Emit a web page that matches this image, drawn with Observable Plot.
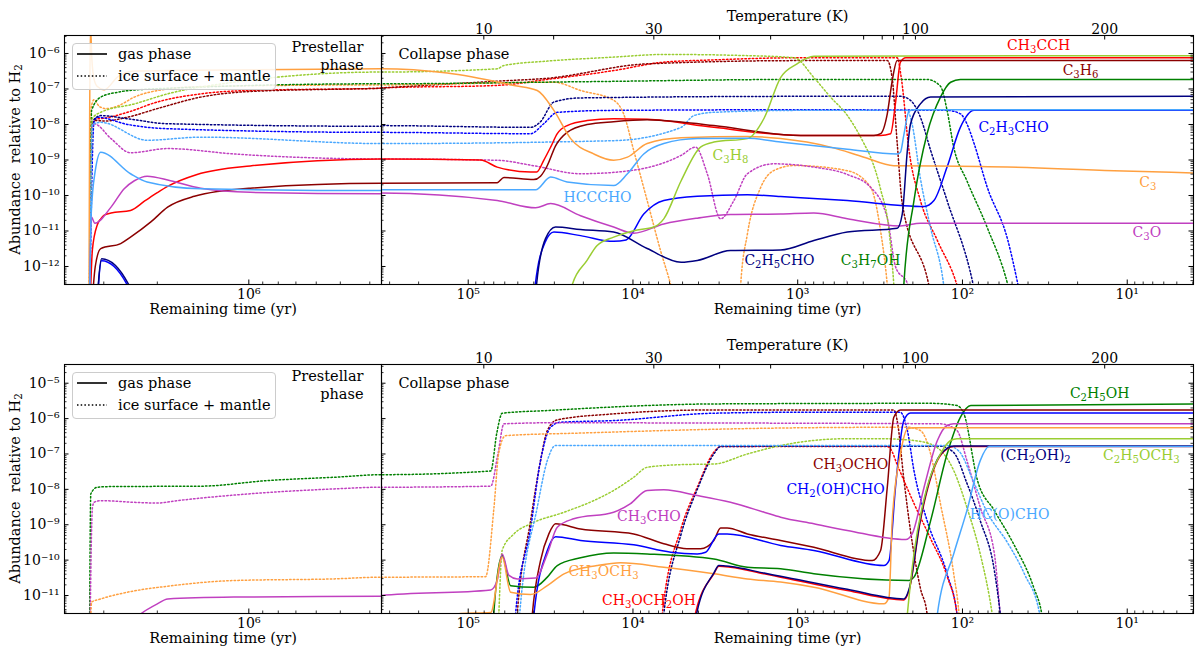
<!DOCTYPE html>
<html><head><meta charset="utf-8">
<script src="https://cdn.jsdelivr.net/npm/d3@7"></script>
<script src="https://cdn.jsdelivr.net/npm/@observablehq/plot@0.6"></script>
<style>
body{margin:0;background:white;}
#wrap{position:relative;width:1200px;height:654px;font-family:"DejaVu Serif",serif;}
</style></head><body><div id="wrap"></div>
<script>
// ---------- TOP FIGURE: [remaining time (yr), abundance] ----------
const CH3CCH_gas = [[3.35e6,1e-14],[3.27e6,3e-12],[3.15e6,1.5e-11],[3.07e6,2.2e-11],[2.99e6,2.8e-11],[2.84e6,3.2e-11],[2.45e6,3.8e-11],[2.2e6,7e-11],[2.0e6,1.2e-10],[1.85e6,1.8e-10],[1.48e6,3.9e-10],[9.9e5,6.8e-10],[3.65e5,1.07e-9],
[3.4e5,1.07e-9],[8.4e4,1.0e-9],[6.67e4,6.3e-10],[4.18e4,4.6e-10],[3.84e4,4.6e-10],[3.48e4,9.8e-10],[3.16e4,2.3e-9],[2.88e4,5.5e-9],[2.51e4,9.3e-9],[1.9e4,1.29e-8],[1.31e4,1.45e-8],[8.2e3,1.4e-8],[3.23e3,8.3e-9],[9.6e2,4.9e-9],[3.14e2,4.9e-9],[2.73e2,5.5e-9],[2.55e2,4e-8],[2.38e2,5.7e-7],[2.21e2,7.6e-7],[3.9,7.6e-7]];
const CH3CCH_ice = [[3.35e6,1e-14],[3.29e6,8e-9],[3.2e6,1.4e-8],[2.99e6,1.5e-8],[2.51e6,2.2e-8],[2.0e6,4.3e-8],[1.44e6,7.3e-8],[9.9e5,9.1e-8],[3.65e5,1.05e-7],
[3.4e5,1.07e-7],[6.67e4,1.26e-7],[3.31e4,1.86e-7],[1.31e4,3.3e-7],[6.5e3,5.7e-7],[3.23e3,6.6e-7],[9.6e2,7.6e-7],[2.49e2,7.6e-7],[2.35e2,2e-7],[2.11e2,1.86e-9],[1.8e2,7.2e-11],[1.42e2,5.4e-12],[1.08e2,3e-13],[9e1,1e-14]];
const C3H6_gas = [[3.33e6,1e-14],[3.2e6,1e-12],[3.07e6,3.2e-12],[2.64e6,4.4e-12],[2.45e6,6.7e-12],[2.1e6,1.8e-11],[1.85e6,4.7e-11],[1.51e6,9.5e-11],[9.9e5,1.6e-10],[3.65e5,2.2e-10],
[3.4e5,2.2e-10],[6.67e4,2.3e-10],[6.07e4,3.2e-10],[4.0e4,2.8e-10],[3.64e4,3.5e-10],[3.31e4,7e-10],[2.95e4,2.5e-9],[2.51e4,6e-9],[1.9e4,1.0e-8],[1.31e4,1.2e-8],[8.2e3,1.35e-8],[5.1e3,1.17e-8],[3.23e3,9.3e-9],[9.6e2,4.9e-9],[3.45e2,4.9e-9],[3.14e2,5.5e-9],[2.86e2,2e-8],[2.67e2,1.7e-7],[2.49e2,6.3e-7],[3.9,6.3e-7]];
const C3H6_ice = [[3.35e6,1e-14],[3.29e6,8e-9],[3.2e6,1.3e-8],[2.99e6,1.25e-8],[2.51e6,1.6e-8],[2.0e6,2.8e-8],[1.44e6,5.9e-8],[9.9e5,8.5e-8],[3.65e5,1.05e-7],
[3.4e5,1.07e-7],[6.67e4,1.66e-7],[3.31e4,2.0e-7],[8.2e3,5.1e-7],[9.6e2,6.3e-7],[2.86e2,6.3e-7],[2.67e2,2e-7],[2.49e2,3e-9],[2.32e2,6e-11],[1.6e2,3e-13],[1.4e2,1e-14]];
const C2H3CHO_gas = [[3.2e6,1e-14],[3.05e6,1.45e-12],[2.5e6,2.8e-13],[2.3e6,5e-14],
[4.1e4,1e-14],[3.92e4,3e-13],[3.4e4,5e-12],[3.02e4,9.3e-12],[2.08e4,7.4e-12],[1.31e4,5.1e-12],[1.1e4,5.6e-12],[8.6e3,3e-11],[6.5e3,7.2e-11],[4.07e3,9.5e-11],[2.02e3,1.05e-10],[1.27e3,9.3e-11],[5.0e2,7.2e-11],[1.71e2,4.9e-11],[1.49e2,7.2e-11],[1.24e2,6.3e-10],[1.03e2,8.3e-9],[8.5e1,2.5e-8],[3.9,2.5e-8]];
const C2H3CHO_ice = [[3.35e6,1e-14],[3.23e6,1.2e-8],[3.15e6,1.6e-8],[2.5e6,1e-8],[1.85e6,7.6e-9],[3.65e5,6e-9],
[3.4e5,6e-9],[4.18e4,5.5e-9],[3.48e4,1.05e-8],[2.88e4,2.2e-8],[1.31e4,2.5e-8],[9.6e2,2.6e-8],[1.24e2,2.5e-8],[1.03e2,2e-8],[9.4e1,1.05e-8],[8.5e1,2.9e-9],[7.1e1,1.8e-10],[5.3e1,5.4e-12],[4.6e1,3e-13],[4e1,1e-14]];
const C3_gas = [[3.36e6,1e-14],[3.34e6,1e-8],[3.32e6,6e-6],[3.28e6,6e-7],[3.23e6,1.9e-7],[3.15e6,1.17e-7],[2.99e6,9.5e-8],[2.7e6,2.2e-7],[2.38e6,3.2e-7],[1.85e6,3.3e-7],[3.65e5,3.7e-7],
[3.4e5,3.7e-7],[1.34e5,2.8e-7],[5.28e4,1.26e-7],[3.81e4,9.1e-8],[3.02e4,2.5e-8],[2.39e4,4e-9],[1.73e4,1.48e-9],[1.31e4,9.8e-10],[1.08e4,1.2e-9],[8.2e3,2.9e-9],[5.1e3,4.2e-9],[2.02e3,4.6e-9],[1.27e3,4e-9],[6.32e2,2.3e-9],[3.96e2,1.2e-9],[2.61e2,6.9e-10],[7.8e1,6.6e-10],[1.2e1,5e-10],[3.9,4.3e-10]];
const C3_ice = [[3.35e6,1e-14],[3.3e6,3e-8],[3.23e6,5e-8],[3.1e6,3.2e-8],[2.95e6,2.8e-8],[2.7e6,3.3e-8],[2.38e6,5.9e-8],[1.85e6,1e-7],[1.44e6,1.17e-7],[3.65e5,1.3e-7],
[3.4e5,1.3e-7],[3.02e4,1.55e-7],[2.08e4,9.1e-8],[1.31e4,4.8e-8],[1.14e4,2e-8],[9.9e3,1.86e-9],[8.2e3,7.2e-11],[6.8e3,2.8e-12],[5.9e3,3e-13],[5.0e3,1e-14],[2.3e3,1e-14],[2.22e3,3e-13],[2.02e3,8.3e-12],[1.68e3,1.66e-10],[1.4e3,5e-10],[1.05e3,7e-10],[5.0e2,5e-10],[3.61e2,1.7e-10],[3.14e2,1e-11],[2.86e2,3e-13],[2.7e2,1e-14]];
const C3O_gas = [[3.35e6,1e-14],[3.3e6,2.5e-11],[3.21e6,1.66e-11],[2.84e6,4.7e-11],[2.57e6,1.55e-10],[2.38e6,2.6e-10],[2.16e6,3.5e-10],[1.81e6,2.6e-10],[1.44e6,1.6e-10],[9.9e5,1.23e-10],[3.65e5,1.12e-10],
[3.4e5,1.17e-10],[6.67e4,7.2e-11],[3.9e4,4.5e-11],[3.16e4,5.9e-11],[2.08e4,2.7e-11],[1.31e4,1.29e-11],[9.9e3,8.7e-12],[6.5e3,1.58e-11],[4.07e3,2.3e-11],[2.56e3,2.9e-11],[1.27e3,3e-11],[7.98e2,3.2e-11],[5e2,2.2e-11],[2.38e2,1.38e-11],[1.8e2,1.66e-11],[3.9,1.66e-11]];
const C3O_ice = [[3.35e6,1e-14],[3.28e6,8e-9],[3.23e6,1.05e-8],[2.84e6,4e-9],[2.45e6,1.6e-9],[1.85e6,2.1e-9],[1.12e6,1.48e-9],[3.65e5,1.07e-9],
[3.4e5,1.07e-9],[6.67e4,9.8e-10],[4.0e4,6.9e-10],[2.08e4,4.1e-10],[1.04e4,5e-10],[5.1e3,1.35e-9],[4.17e3,2.3e-9],[3.54e3,4.1e-10],[2.94e3,2.2e-11],[2.44e3,7.2e-11],[2.02e3,4.1e-10],[1.4e3,7.8e-10],[7.98e2,6.3e-10],[5e2,3.9e-10],[3.61e2,1.7e-10],[2.86e2,2.3e-11],[2.55e2,1e-12],[2.14e2,3e-13],[2e2,1e-14]];
const C3H7OH_gas = [[2.35e2,1e-14],[2.27e2,3e-13],[1.97e2,7.2e-11],[1.64e2,5.5e-9],[1.36e2,5.9e-8],[1.18e2,1.55e-7],[1.03e2,1.86e-7],[3.9,1.86e-7]];
const C3H7OH_ice = [[3.35e6,1e-14],[3.29e6,2.5e-8],[3.07e6,5.9e-8],[2.7e6,8.1e-8],[2.1e6,1e-7],[3.65e5,1.4e-7],
[3.4e5,1.4e-7],[2.08e4,1.6e-7],[9.6e2,1.86e-7],[1.64e2,1.86e-7],[1.36e2,1.2e-7],[1.24e2,2.5e-8],[1.13e2,2.3e-9],[9.4e1,2.6e-10],[7.1e1,1.3e-11],[5.3e1,3e-13],[4.5e1,1e-14]];
const C2H5CHO_gas = [[3.2e6,1e-14],[3.05e6,1.66e-12],[2.48e6,3e-13],[2.3e6,6e-14],
[4.05e4,1e-14],[3.85e4,3e-13],[3.4e4,6e-12],[2.95e4,1.29e-11],[2.08e4,1.1e-11],[1.31e4,9.3e-12],[8.2e3,3.2e-12],[5.1e3,1.32e-12],[4.07e3,1.48e-12],[2.56e3,2.8e-12],[1.27e3,2.9e-12],[7.98e2,5.4e-12],[5e2,9.3e-12],[2.49e2,1.2e-11],[2.32e2,3e-11],[2.16e2,1.86e-9],[2.07e2,1e-8],[1.8e2,3.8e-8],[1.56e2,5.9e-8],[3.9,6.2e-8]];
const C2H5CHO_ice = [[3.35e6,1e-14],[3.27e6,1.2e-8],[3.07e6,1.78e-8],[2.5e6,1.45e-8],[1.85e6,1.05e-8],[3.65e5,8.9e-9],
[3.4e5,9.3e-9],[4.18e4,8.3e-9],[3.64e4,1.2e-8],[3.02e4,4.3e-8],[2.08e4,5.6e-8],[9.6e2,6.2e-8],[2.38e2,6.2e-8],[2.07e2,4.8e-8],[1.8e2,1.6e-8],[1.56e2,1.86e-9],[1.24e2,7.2e-11],[8.6e1,3e-13],[7.5e1,1e-14]];
const C3H8_gas = [[2.6e4,1e-14],[2.34e4,3e-13],[1.9e4,1.48e-12],[1.65e4,3.9e-12],[1.31e4,6.7e-12],[9.9e3,1.02e-11],[7.5e3,1.29e-11],[6.5e3,2.2e-11],[5.1e3,2.6e-10],[3.89e3,2.3e-9],[3.23e3,3.2e-9],[2.02e3,4e-9],[1.6e3,1.5e-8],[1.27e3,2.1e-7],[1.01e3,5.1e-7],[7.98e2,8.3e-7],[3.9,8.7e-7]];
const C3H8_ice = [[3.35e6,1e-14],[3.27e6,1.5e-8],[3.07e6,2.2e-8],[2.38e6,3.8e-8],[1.85e6,7.3e-8],[1.12e6,1.55e-7],[3.65e5,3e-7],
[3.4e5,3e-7],[6.67e4,3.7e-7],[6.07e4,4.6e-7],[3.31e4,6.1e-7],[1.31e4,7.9e-7],[6.5e3,9.4e-7],[2.02e3,8.7e-7],[1.05e3,7.6e-7],[7.98e2,2.1e-7],[6.32e2,5.9e-8],[5e2,1.8e-8],[3.96e2,2.9e-9],[3.61e2,1.2e-9],[3.14e2,1.5e-10],[2.79e2,1e-11],[2.61e2,3e-13],[2.5e2,1e-14]];
const HCCCHO_gas = [[3.35e6,1e-14],[3.3e6,3e-11],[3.2e6,5e-10],[3.07e6,1.66e-9],[2.45e6,4.1e-10],[2.16e6,2.4e-10],[1.44e6,1.55e-10],[3.65e5,1.38e-10],
[3.4e5,1.45e-10],[3.9e4,1.45e-10],[3.16e4,3.3e-10],[2.51e4,2.4e-10],[1.31e4,1.9e-10],[1.08e4,4.1e-10],[8.6e3,1.48e-9],[6.5e3,2.9e-9],[4.07e3,4e-9],[2.02e3,4.1e-9],[1.27e3,3.2e-9],[5e2,2e-9],[2.49e2,1.48e-9],[2.38e2,1.66e-9],[2.27e2,5e-9],[2.11e2,2.4e-8],[1.97e2,2.6e-8],[3.9,2.6e-8]];
const HCCCHO_ice = [[3.35e6,1e-14],[3.27e6,1e-8],[3.07e6,1.15e-8],[2.16e6,3.6e-9],[1.44e6,4.4e-9],[3.65e5,2.9e-9],
[3.4e5,2.9e-9],[1.31e4,3.5e-9],[5.1e3,8.3e-9],[4.27e3,1.78e-8],[3.23e3,2.2e-8],[9.6e2,2.5e-8],[2.16e2,2.5e-8],[2.02e2,1e-8],[1.8e2,3e-10],[1.56e2,1.2e-11],[1.3e2,3e-13],[1.2e2,1e-14]];

// ---------- BOTTOM FIGURE ----------
const C2H5OH_gas = [[7.3e4,1e-13],[7.0e4,3e-12],[6.22e4,1.35e-10],[5.53e4,1.9e-11],[3.99e4,1.72e-11],[3.31e4,3.3e-11],[2.88e4,7e-11],[2.08e4,1.16e-10],[1.31e4,1.6e-10],[8.2e3,1.5e-10],[3.23e3,1.08e-10],[2.02e3,6.3e-11],[1.27e3,5.7e-11],[7.98e2,4.1e-11],[2.11e2,2.65e-11],[1.97e2,3.3e-11],[1.56e2,1.31e-9],[1.24e2,1e-7],[1.03e2,1.09e-6],[8.9e1,2.34e-6],[3.9,2.6e-6]];
const C2H5OH_ice = [[3.35e6,1e-14],[3.31e6,7.5e-9],[3.15e6,1.15e-8],[2.84e6,1.2e-8],[1.44e6,1.23e-8],[8.69e5,1.77e-8],[5.24e5,2.2e-8],[3.65e5,2.6e-8],
[3.4e5,2.6e-8],[7.3e4,3.3e-8],[6.7e4,4e-7],[6.22e4,1.42e-6],[3.31e4,1.69e-6],[8.2e3,2.34e-6],[3.23e3,2.6e-6],[1.56e2,2.7e-6],[1.08e2,2.34e-6],[9.8e1,1.36e-6],[8.1e1,1.77e-8],[6.4e1,2.5e-9],[4.9e1,2.9e-10],[3.7e1,1.72e-11],[3.3e1,3e-12],[3e1,1e-13]];
const CH3OCHO_gas = [[4.3e4,1e-13],[4.08e4,3e-12],[3.64e4,9.7e-11],[3.24e4,5.5e-10],[2.95e4,1.06e-9],[2.08e4,7.6e-10],[9.9e3,5.5e-10],[6.5e3,2.9e-10],[4.7e3,2.1e-10],[3.89e3,2.1e-10],[3.23e3,3.6e-10],[2.94e3,8.1e-10],[2.68e3,8.1e-10],[2.02e3,5.5e-10],[1.27e3,3.6e-10],[7.98e2,2.3e-10],[3.53e2,9.7e-11],[3.14e2,1.87e-10],[2.86e2,1.15e-8],[2.61e2,1.09e-6],[2.38e2,1.76e-6],[3.9,1.76e-6]];
const CH3OCHO_ice = [[5.3e4,1e-13],[5.04e4,3e-12],[4.18e4,1.31e-9],[3.64e4,6.5e-8],[3.31e4,4.6e-7],[2.88e4,9.2e-7],[1.31e4,1.36e-6],[3.23e3,1.76e-6],[2.61e2,1.76e-6],[2.49e2,8.8e-7],[2.27e2,2e-8],[2.07e2,7e-10],[1.8e2,1.6e-11],[1.64e2,3e-12],[1.55e2,1e-13]];
const CH2OHCHO_gas = [[4.2e4,1e-13],[3.99e4,3e-12],[3.31e4,1.87e-10],[2.95e4,4.6e-10],[2.08e4,3.6e-10],[9.9e3,2.7e-10],[5.9e3,1.67e-10],[4.07e3,1.5e-10],[3.62e3,1.67e-10],[3.01e3,5.5e-10],[2.68e3,5.5e-10],[1.27e3,2.6e-10],[7.98e2,1.87e-10],[3.0e2,7e-11],[2.79e2,9.7e-11],[2.55e2,1.15e-8],[2.27e2,8.8e-7],[2.07e2,1.45e-6],[3.9,1.45e-6]];
const CH2OHCHO_ice = [[5.3e4,1e-13],[5.16e4,3e-12],[4.18e4,8e-10],[3.64e4,6.5e-8],[3.16e4,5.7e-7],[2.75e4,7.9e-7],[1.31e4,8.8e-7],[3.23e3,1.42e-6],[9.6e2,1.51e-6],[2.38e2,1.51e-6],[2.16e2,4.6e-7],[1.97e2,3.4e-8],[1.64e2,1.31e-9],[1.24e2,4.1e-11],[1.08e2,3e-12],[1e2,1e-13]];
const CH3CHO_gas = [[2.6e6,1e-12],[2.27e6,3e-12],[2.0e6,5.8e-12],[1.85e6,8e-12],[1.12e6,9e-12],[3.65e5,9.6e-12],
[3.4e5,1e-11],[7.3e4,1.44e-11],[6.67e4,2.65e-11],[6.22e4,1.5e-10],[5.66e4,3.7e-11],[5.04e4,2.95e-11],[3.9e4,3.1e-11],[3.31e4,1.5e-10],[2.88e4,8.5e-10],[2.29e4,1.47e-9],[1.31e4,2.26e-9],[1.04e4,3.9e-9],[8.2e3,9.3e-9],[6.5e3,9.7e-9],[4.07e3,6.7e-9],[2.56e3,4.3e-9],[1.6e3,2.26e-9],[1.27e3,1.63e-9],[7.98e2,1.06e-9],[5e2,6.9e-10],[2.21e2,3.8e-10],[2.02e2,5.5e-10],[1.71e2,1.15e-8],[1.42e2,2.4e-7],[1.24e2,6.4e-7],[1.13e2,7.1e-7],[3.9,7.1e-7]];
const CH3CHO_ice = [[3.35e6,1e-14],[3.27e6,3e-9],[3.23e6,4.3e-9],[3.07e6,4.8e-9],[2.38e6,4.3e-9],[2.0e6,4.1e-9],[1.72e6,4.8e-9],[9.9e5,7.5e-9],[5.24e5,1.03e-8],[3.65e5,1.15e-8],
[3.4e5,1.15e-8],[7.3e4,1.23e-8],[6.6e4,1e-7],[6.07e4,7.1e-7],[3.31e4,7.6e-7],[9.6e2,7.4e-7],[1.36e2,7.1e-7],[1.08e2,4.6e-7],[9.4e1,6.5e-8],[7.8e1,3.1e-9],[6.4e1,1.5e-10],[5.9e1,3e-12],[5.5e1,1e-13]];
const CH3OCH3_gas = [[1.6e5,1e-12],[1.11e5,3.1e-12],[7.3e4,3.3e-12],[6.22e4,1.2e-10],[5.53e4,1.24e-11],[4.18e4,1.06e-11],[3.31e4,1.9e-11],[2.62e4,4.1e-11],[1.65e4,7e-11],[1.19e4,8.4e-11],[6.5e3,6.3e-11],[3.23e3,4.1e-11],[2.02e3,2.95e-11],[1.27e3,2.4e-11],[7.98e2,1.72e-11],[3.0e2,5.8e-12],[2.79e2,9e-12],[2.67e2,1.3e-9],[2.38e2,1.0e-7],[2.16e2,5.1e-7],[1.97e2,5.5e-7],[3.9,5.5e-7]];
const CH3OCH3_ice = [[3.35e6,1e-14],[3.29e6,6.5e-12],[3.07e6,8e-12],[2.51e6,1.24e-11],[1.85e6,1.83e-11],[1.12e6,2.65e-11],[5.24e5,2.95e-11],[3.65e5,3.3e-11],
[3.4e5,3.3e-11],[7.85e4,3.4e-11],[6.98e4,3e-9],[6.52e4,1.1e-7],[5.93e4,3.3e-7],[2.08e4,3.9e-7],[9.6e2,5.5e-7],[2.16e2,5.7e-7],[1.8e2,4.6e-7],[1.56e2,1e-7],[1.36e2,3.9e-9],[1.13e2,4.1e-11],[1.05e2,3e-12],[1e2,1e-13]];
const CH3OCH2OH_gas = [[4.4e3,1e-13],[4.17e3,3.2e-12],[3.23e3,4.1e-11],[3.01e3,6.7e-11],[2.56e3,6.3e-11],[1.6e3,4.1e-11],[1.27e3,3.3e-11],[5e2,1.38e-11],[2.27e2,7.5e-12],[2.11e2,1.38e-11],[1.8e2,1.31e-9],[1.42e2,6.5e-8],[1.24e2,1.39e-7],[1.13e2,1.62e-7],[3.9,1.62e-7]];
const CH3OCH2OH_ice = [[6.9e3,1e-13],[6.64e3,3e-12],[5.1e3,8e-10],[4.07e3,1.15e-8],[3.23e3,1.12e-7],[2.94e3,1.62e-7],[2.86e2,1.62e-7],[2.73e2,1.39e-7],[2.49e2,5e-8],[1.97e2,4e-9],[1.56e2,4e-10],[1.24e2,3.5e-11],[1.08e2,3e-12],[1e2,1e-13]];
const CH2OH2_gas = [[4.5e3,1e-13],[4.1e3,3.2e-12],[3.23e3,4.3e-11],[3.01e3,7e-11],[2.56e3,6.6e-11],[1.6e3,4.3e-11],[1.27e3,3.5e-11],[5e2,1.5e-11],[2.27e2,8e-12],[2.11e2,1.5e-11],[1.8e2,1.5e-9],[1.42e2,7e-8],[1.24e2,1.45e-7],[1.13e2,1.67e-7],[3.9,1.67e-7]];
const CH2OH2_ice = [[7.0e3,1e-13],[6.5e3,3e-12],[5.1e3,5.5e-10],[4.07e3,1e-8],[3.23e3,1e-7],[2.94e3,1.62e-7],[9.6e2,1.65e-7],[1.36e2,1.65e-7],[1.13e2,1.1e-7],[9.4e1,1.5e-8],[7.8e1,1.3e-9],[6.4e1,5e-11],[5.9e1,3e-12],[5.5e1,1e-13]];
const C2H5OCH3_gas = [[2.3e2,1e-13],[2.16e2,3e-12],[1.97e2,1.5e-10],[1.64e2,1.15e-8],[1.36e2,1.0e-7],[1.18e2,2.4e-7],[1.08e2,2.7e-7],[3.9,2.7e-7]];
const C2H5OCH3_ice = [[6.7e4,1e-13],[6.52e4,3e-12],[6.22e4,1.9e-10],[5.28e4,5.5e-10],[4.18e4,1.06e-9],[2.62e4,2.26e-9],[1.73e4,4.8e-9],[1.31e4,9.3e-9],[9.9e3,2.2e-8],[8.2e3,4.2e-8],[5.1e3,5e-8],[3.23e3,5.2e-8],[2.02e3,1e-7],[1.27e3,1.73e-7],[5.0e2,2.7e-7],[3.14e2,2.7e-7],[1.97e2,2.4e-7],[1.49e2,1.73e-7],[1.13e2,3.4e-8],[9.4e1,3.1e-9],[7.8e1,1.5e-10],[6.6e1,3e-12],[6e1,1e-13]];
const HCOCHO_gas = [[1.5e2,1e-13],[1.42e2,3e-12],[1.13e2,1.5e-10],[9.4e1,2.5e-9],[7.8e1,6.5e-8],[6.9e1,1.62e-7],[3.9,1.62e-7]];
const HCOCHO_ice = [[5.0e4,1e-13],[4.87e4,3e-12],[3.81e4,3.1e-9],[3.31e4,6.5e-8],[2.95e4,1.73e-7],[9.6e2,1.73e-7],[1.24e2,1.73e-7],[1.05e2,1.2e-7],[8.5e1,1.5e-8],[7.1e1,2.3e-9],[5.3e1,3e-10],[4.2e1,4e-11],[3.4e1,3e-12],[3.1e1,1e-13]];

// labels: text, time, abundance (read positions)
const topLabelText = ["CH₃CCH","C₃H₆","C₂H₃CHO","C₃","C₃O","C₃H₇OH","C₂H₅CHO","C₃H₈","HCCCHO"];
const topLabelT = [34.5, 19.2, 49, 7.5, 7.6, 361, 1290, 2560, 16400];
const topLabelV = [1.68e-6, 3.3e-7, 8.2e-9, 2.3e-10, 9.1e-12, 1.48e-12, 1.48e-12, 1.34e-9, 8.8e-11];
const topLabelColor = ["red","darkred","blue","orange","magenta","green","navy","yellowgreen","lightblue"];
const botLabelText = ["C₂H₅OH","CH₃OCHO","CH₂(OH)CHO","(CH₂OH)₂","C₂H₅OCH₃","HC(O)CHO","CH₃CHO","CH₃OCH₃","CH₃OCH₂OH"];
const botLabelT = [14.7, 478, 589, 36, 8.2, 51.8, 8000, 15100, 8000];
const botLabelV = [5.1e-6, 5.0e-8, 9.9e-9, 9.0e-8, 9.0e-8, 1.95e-9, 1.7e-9, 4.8e-11, 7.2e-12];
const botLabelColor = ["green","darkred","blue","navy","yellowgreen","lightblue","magenta","orange","red"];

// temperature (top) axis: K value and remaining time where it is reached
const tempTickK = [10,20,30,40,50,60,70,80,90,100,200];
const tempTickTime = [8.04e4,3.03e4,7.47e3,2.98e3,1.46e3,398,307,262,229,193,13.7];
const tempLabelK = [10,30,100,200];

const COLORS = {red:"#ff0000", darkred:"#8b0000", blue:"#0000ff", navy:"#000080", green:"#008000",
  yellowgreen:"#9acd32", orange:"#ffa040", magenta:"#c040c0", lightblue:"#4aa8ff"};

const topSeries = [
  [CH3CCH_gas, CH3CCH_ice, "red"], [C3H6_gas, C3H6_ice, "darkred"], [C2H3CHO_gas, C2H3CHO_ice, "blue"],
  [C3_gas, C3_ice, "orange"], [C3O_gas, C3O_ice, "magenta"], [C3H7OH_gas, C3H7OH_ice, "green"],
  [C2H5CHO_gas, C2H5CHO_ice, "navy"], [C3H8_gas, C3H8_ice, "yellowgreen"], [HCCCHO_gas, HCCCHO_ice, "lightblue"]];
const botSeries = [
  [C2H5OH_gas, C2H5OH_ice, "green"], [CH3OCHO_gas, CH3OCHO_ice, "darkred"], [CH2OHCHO_gas, CH2OHCHO_ice, "blue"],
  [CH3CHO_gas, CH3CHO_ice, "magenta"], [CH3OCH3_gas, CH3OCH3_ice, "orange"], [CH3OCH2OH_gas, CH3OCH2OH_ice, "red"],
  [CH2OH2_gas, CH2OH2_ice, "navy"], [C2H5OCH3_gas, C2H5OCH3_ice, "yellowgreen"], [HCOCHO_gas, HCOCHO_ice, "lightblue"]];

const SUP = {"-":"⁻","0":"⁰","1":"¹","2":"²","3":"³","4":"⁴","5":"⁵","6":"⁶","7":"⁷","8":"⁸","9":"⁹"};
const fmtPow = d => "10" + String(Math.round(Math.log10(d))).split("").map(c => SUP[c]).join("");
function minorTicks(e0, e1, dom) {
  const lo = Math.min(...dom), hi = Math.max(...dom), out = [];
  for (let e = e0; e <= e1; e++) for (let m = 2; m <= 9; m++) { const v = m * Math.pow(10, e); if (v > lo && v < hi) out.push(v); }
  return out;
}
const DASH = "1.5,2.2";
const FONT = "DejaVu Serif";

function makePanel(cfg) {
  const fw = cfg.width - cfg.ml - cfg.mr, fh = cfg.height - cfg.mt - cfg.mb;
  const marks = [];
  for (const [gas, ice, c] of cfg.series)
    marks.push(Plot.line(ice, {x: d => d[0], y: d => d[1], stroke: COLORS[c], strokeWidth: 1.5, strokeDasharray: DASH, curve: "monotone-x", clip: true}));
  for (const [gas, ice, c] of cfg.series)
    marks.push(Plot.line(gas, {x: d => d[0], y: d => d[1], stroke: COLORS[c], strokeWidth: 1.5, curve: "monotone-x", clip: true}));
  marks.push(Plot.frame({stroke: "black", strokeWidth: 1.1}));
  // inward ticks
  marks.push(Plot.tickX(cfg.xMajor, {x: d => d, insetTop: fh - 4.5, stroke: "black", strokeWidth: 1}));
  marks.push(Plot.tickX(cfg.xMinor, {x: d => d, insetTop: fh - 2.5, stroke: "black", strokeWidth: 0.8}));
  marks.push(Plot.tickY(cfg.yMajor, {y: d => d, insetRight: fw - 4.5, stroke: "black", strokeWidth: 1}));
  marks.push(Plot.tickY(cfg.yMinor, {y: d => d, insetRight: fw - 2.5, stroke: "black", strokeWidth: 0.8}));
  marks.push(Plot.axisX({ticks: cfg.xMajor, tickFormat: fmtPow, tickSize: 0, tickPadding: 5, label: null, fontSize: 14}));
  marks.push(Plot.text(["Remaining time (yr)"], {frameAnchor: "bottom", dy: 29, fontSize: 14.5}));
  if (cfg.isLeft) {
    marks.push(Plot.axisY({ticks: cfg.yMajor, tickFormat: fmtPow, tickSize: 0, tickPadding: 5, label: null, fontSize: 14}));
    marks.push(Plot.text(["Prestellar\nphase"], {frameAnchor: "top-right", dx: -18, dy: 4.5, textAnchor: "end", lineAnchor: "top", lineHeight: 1.2, fontSize: 14.5}));
  } else {
    marks.push(Plot.tickY(cfg.yMajor, {y: d => d, insetLeft: fw - 4.5, stroke: "black", strokeWidth: 1}));
    marks.push(Plot.tickY(cfg.yMinor, {y: d => d, insetLeft: fw - 2.5, stroke: "black", strokeWidth: 0.8}));
    marks.push(Plot.tickX(tempTickTime, {x: d => d, insetBottom: fh - 4.5, stroke: "black", strokeWidth: 1}));
    const tl = tempLabelK.map(k => ({k, t: tempTickTime[tempTickK.indexOf(k)]}));
    marks.push(Plot.text(tl, {x: "t", text: d => String(d.k), frameAnchor: "top", dy: -11, fontSize: 14}));
    marks.push(Plot.text(["Temperature (K)"], {frameAnchor: "top", dy: -25, fontSize: 14.5}));
    marks.push(Plot.text(["Collapse phase"], {frameAnchor: "top-left", dx: 17, dy: 13, textAnchor: "start", fontSize: 14.5}));
    const labs = cfg.labText.map((s, i) => ({s, t: cfg.labT[i], v: cfg.labV[i], c: COLORS[cfg.labColor[i]]}));
    marks.push(Plot.text(labs, {x: "t", y: "v", text: "s", fill: "c", fontSize: 14}));
  }
  const svg = Plot.plot({
    width: cfg.width, height: cfg.height,
    marginTop: cfg.mt, marginBottom: cfg.mb, marginLeft: cfg.ml, marginRight: cfg.mr,
    x: {type: "log", domain: cfg.xDomain},
    y: {type: "log", domain: cfg.yDomain, axis: cfg.isLeft ? undefined : null},
    style: {fontFamily: FONT, fontSize: "14px", overflow: "visible", background: "none"},
    marks
  });
  svg.style.position = "absolute";
  svg.style.left = cfg.left + "px";
  svg.style.top = cfg.top + "px";
  svg.style.maxWidth = "none";
  return svg;
}

const wrap = document.getElementById("wrap");
const leftDom = [4.04e6, 3.66e5], rightDom = [3.36e5, 3.96];
const rows = [
  {top: 0, height: 320, mt: 35, mb: 36, yDomain: [3.11e-13, 3.21e-6], yMajor: [1e-12,1e-11,1e-10,1e-9,1e-8,1e-7,1e-6], ye: [-13,-6],
   series: topSeries, labText: topLabelText, labT: topLabelT, labV: topLabelV, labColor: topLabelColor, legendTop: 43},
  {top: 320, height: 334, mt: 44, mb: 41, yDomain: [3.1e-12, 3.38e-5], yMajor: [1e-11,1e-10,1e-9,1e-8,1e-7,1e-6,1e-5], ye: [-12,-5],
   series: botSeries, labText: botLabelText, labT: botLabelT, labV: botLabelV, labColor: botLabelColor, legendTop: 372}
];
for (const r of rows) {
  const yMinor = minorTicks(r.ye[0], r.ye[1], r.yDomain);
  wrap.appendChild(makePanel({...r, left: 0, width: 381, ml: 64, mr: 0, isLeft: true, xDomain: leftDom,
    xMajor: [1e6], xMinor: minorTicks(5, 6, leftDom), yMinor}));
  wrap.appendChild(makePanel({...r, left: 381, width: 819, ml: 0, mr: 7, isLeft: false, xDomain: rightDom,
    xMajor: [1e5,1e4,1e3,1e2,1e1], xMinor: minorTicks(0, 5, rightDom), yMinor}));
  // y-axis title (rotated)
  const cy = r.top + r.mt + (r.height - r.mt - r.mb) / 2;
  const yl = document.createElementNS("http://www.w3.org/2000/svg", "svg");
  yl.setAttribute("width", "30"); yl.setAttribute("height", String(r.height));
  yl.style.cssText = `position:absolute;left:0;top:${r.top}px;overflow:visible;font-family:'${FONT}';font-size:14.5px`;
  yl.innerHTML = `<text text-anchor="middle" dominant-baseline="central" transform="translate(15,${cy - r.top}) rotate(-90)" xml:space="preserve">Abundance  relative to H₂</text>`;
  wrap.appendChild(yl);
  // legend
  const lg = document.createElement("div");
  lg.style.cssText = `position:absolute;left:72px;top:${r.legendTop}px;width:204px;height:47px;border:1px solid #cccccc;border-radius:4px;background:rgba(255,255,255,0.85);box-sizing:border-box;`;
  lg.innerHTML = `<svg width="204" height="47" style="position:absolute;left:-1px;top:-1px;font-family:'${FONT}';font-size:14.5px">
    <line x1="5" x2="35" y1="11" y2="11" stroke="black" stroke-width="1.6"/>
    <text x="46" y="11" dominant-baseline="central">gas phase</text>
    <line x1="5" x2="35" y1="33" y2="33" stroke="black" stroke-width="1.5" stroke-dasharray="${DASH}"/>
    <text x="46" y="33" dominant-baseline="central">ice surface + mantle</text></svg>`;
  wrap.appendChild(lg);
}

// render chemical subscripts as smaller, lowered digits (real text kept)
const SUBS = "₀₁₂₃₄₅₆₇₈₉";
wrap.querySelectorAll("text").forEach(el => {
  if (el.querySelector("tspan")) return;
  const s = el.textContent;
  if (![...s].some(c => SUBS.includes(c))) return;
  const fs = parseFloat(getComputedStyle(el).fontSize) || 14;
  const shift = +(fs * 0.22).toFixed(2);
  const runs = [];
  for (const c of s) {
    const sub = SUBS.includes(c);
    const ch = sub ? String(SUBS.indexOf(c)) : c;
    if (runs.length && runs[runs.length - 1].sub === sub) runs[runs.length - 1].t += ch;
    else runs.push({sub, t: ch});
  }
  el.textContent = "";
  let cur = 0;
  for (const r of runs) {
    const ts = document.createElementNS("http://www.w3.org/2000/svg", "tspan");
    const target = r.sub ? shift : 0;
    if (target !== cur) ts.setAttribute("dy", String(target - cur));
    cur = target;
    if (r.sub) ts.setAttribute("font-size", (fs * 0.72).toFixed(1));
    ts.textContent = r.t;
    el.appendChild(ts);
  }
});
</script></body></html>
